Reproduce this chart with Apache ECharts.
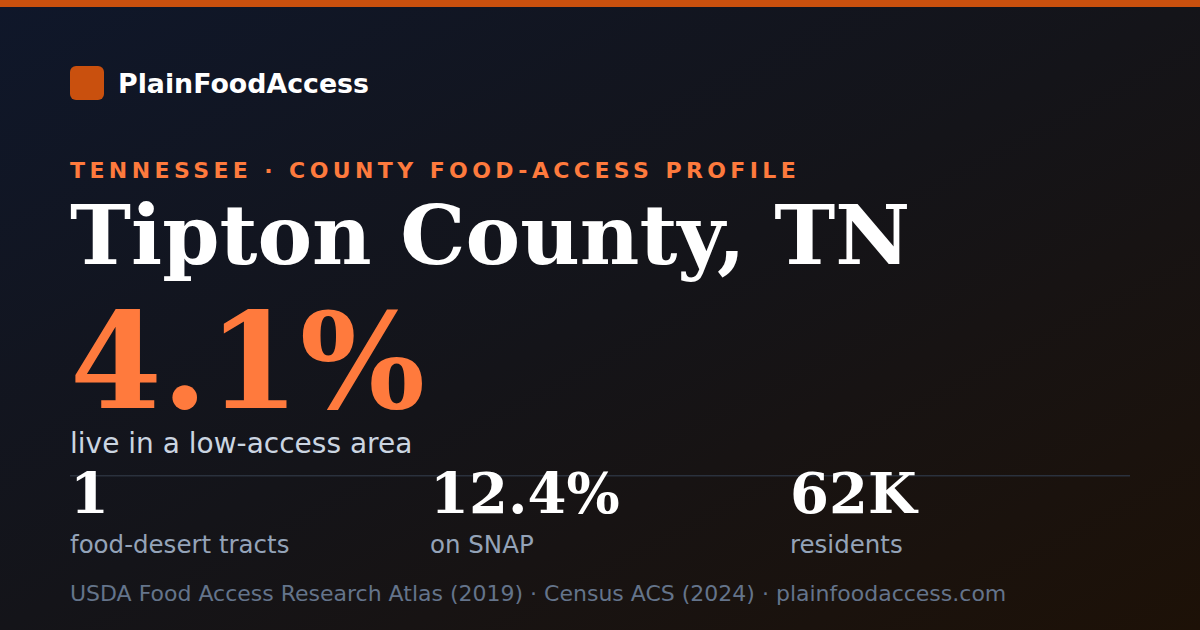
<!DOCTYPE html>
<html><head><meta charset="utf-8">
<script src="https://cdn.jsdelivr.net/npm/echarts@6/dist/echarts.min.js"></script>
<style>
html,body{margin:0;padding:0;background:#111;}#c{width:1200px;height:630px;}
#c svg text[fill="#fe7a3d"], #c svg text[fill="rgb(254,122,61)"], #c svg text[fill="rgb(254, 122, 61)"]{letter-spacing:4.4px;}
</style>
</head><body><div id="c"></div>
<script>
const brand = 'PlainFoodAccess';
const kicker = 'TENNESSEE · COUNTY FOOD-ACCESS PROFILE';
const title = 'Tipton County, TN';
const headlineValue = '4.1%';
const headlineLabel = 'live in a low-access area';
const statValues = ['1', '12.4%', '62K'];
const statLabels = ['food-desert tracts', 'on SNAP', 'residents'];
const sourceNote = 'USDA Food Access Research Atlas (2019) · Census ACS (2024) · plainfoodaccess.com';

const SANS = '"DejaVu Sans"';
const SERIF = '"DejaVu Serif"';
const KICKER_SPACING = '4.4px';
// place text by its alphabetic baseline (middle-anchored, offset per family)
function txt(text, x, baseline, size, weight, family, fill) {
  const k = family === SERIF ? 0.36 : 0.3;
  return {
    type: 'text', silent: true,
    style: {
      text: text, x: x, y: baseline - k * size,
      font: weight + ' ' + size + 'px ' + family,
      fill: fill, align: 'left', verticalAlign: 'middle'
    }
  };
}

const els = [
  { type: 'rect', silent: true, shape: { x: 0, y: 0, width: 1200, height: 630 },
    style: { fill: { type: 'linear', x: 0, y: 0, x2: 1, y2: 1, colorStops: [
      { offset: 0, color: '#0f172a' }, { offset: 0.5, color: '#141419' }, { offset: 1, color: '#1d1107' }] } } },
  { type: 'rect', silent: true, shape: { x: 0, y: 0, width: 1200, height: 7 }, style: { fill: '#c9500e' } },
  { type: 'rect', silent: true, shape: { x: 70, y: 66, width: 34, height: 34, r: 6 }, style: { fill: '#c9500e' } },
  txt(brand, 118, 92, 26.8, 'bold', SANS, '#ffffff'),
  txt(kicker, 70, 177.5, 22, 'bold', SANS, '#fe7a3d'),
  txt(title, 70, 265, 82, 'bold', SERIF, '#ffffff'),
  txt(headlineValue, 70, 409, 132, 'bold', SERIF, '#ff7a3d'),
  txt(headlineLabel, 70, 452, 28, 'normal', SANS, '#cbd5e1'),
  { type: 'rect', silent: true, shape: { x: 70, y: 475, width: 1060, height: 1.5 }, style: { fill: '#2a313d' } },
  txt(sourceNote, 70, 600, 22, 'normal', SANS, '#64748b')
];
statValues.forEach(function (v, i) {
  els.push(txt(v, 70 + i * 360, 513, 56, 'bold', SERIF, '#ffffff'));
  els.push(txt(statLabels[i], 70 + i * 360, 552, 24.5, 'normal', SANS, '#94a3b8'));
});

const host = document.getElementById('c');
function spaceKicker() {
  host.querySelectorAll('svg text').forEach(function (t) {
    if (t.textContent.trim() === kicker && t.style.letterSpacing !== KICKER_SPACING) t.style.letterSpacing = KICKER_SPACING;
  });
}
new MutationObserver(spaceKicker).observe(host, { childList: true, subtree: true, characterData: true });
const chart = echarts.init(host, null, { renderer: 'svg', width: 1200, height: 630 });
chart.setOption({ animation: false, graphic: { elements: els } });
spaceKicker();
chart.on('finished', spaceKicker);
</script></body></html>
